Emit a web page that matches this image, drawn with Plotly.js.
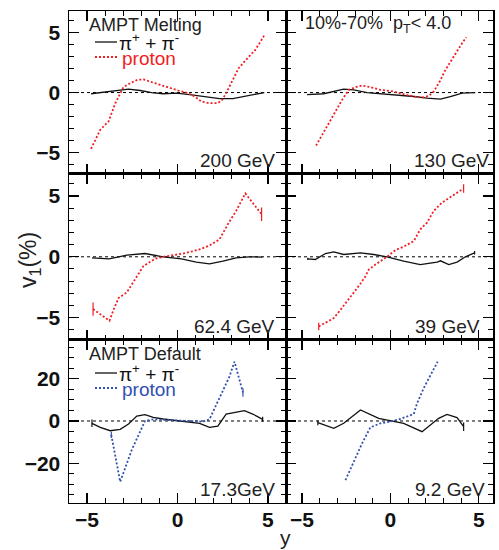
<!DOCTYPE html>
<html><head><meta charset="utf-8">
<script src="https://cdn.plot.ly/plotly-3.0.1.min.js"></script>
<style>html,body{margin:0;padding:0;background:#fff}#c{width:499px;height:550px}</style>
</head><body><div id="c"></div>
<script>
// ---- data ----
const p200_x = [-4.78,-4.27,-3.81,-3.44,-2.99,-2.62,-2.22,-1.89,-1.25,-0.79,-0.44,0.04,0.49,0.95,1.32,1.77,2.23,2.47,2.69,3.06,3.38,3.70,4.07,4.30,4.56,4.80];
const p200_y = [-4.69,-3.1,-2.4,-0.9,0.45,0.78,1.06,1.1,0.78,0.56,0.37,0.17,0,-0.33,-0.75,-0.89,-0.89,-0.61,-0.05,1.06,2.03,2.58,3.14,3.56,4.17,4.78];
const pi200_x = [-4.78,-3.72,-2.71,-2.06,-1.43,-0.79,-0.06,0.68,1.59,2.32,3.06,3.88,4.80];
const pi200_y = [-0.1,0.08,0.28,0.17,0,-0.1,-0.05,-0.18,-0.37,-0.5,-0.5,-0.25,0];

const p130_x = [-4.2,-3.86,-3.48,-3.11,-2.73,-2.35,-1.98,-1.6,-1.13,-0.56,0.19,0.75,1.32,1.79,2.17,2.45,2.79,3.11,3.39,3.71,4.05,4.29];
const p130_y = [-4.42,-3.53,-2.55,-1.58,-0.61,0.22,0.45,0.58,0.45,0.22,0.08,-0.14,-0.33,-0.42,-0.28,0.08,0.92,1.89,2.58,3.28,4.11,4.61];
const pi130_x = [-4.71,-3.77,-2.64,-2.07,-1.32,-0.56,0.19,1.32,2.07,2.83,3.39,4.05,4.80];
const pi130_y = [-0.17,-0.1,0.28,0.22,0,-0.1,-0.14,-0.33,-0.47,-0.55,-0.33,-0.05,0];

const p62_x = [-4.67,-4.25,-3.76,-3.54,-3.26,-2.8,-2.53,-2.22,-1.89,-1.61,-1.25,-0.79,-0.24,0.31,0.86,1.32,1.77,2.32,2.78,3.24,3.75,4.15,4.65];
const p62_y = [-4.3,-4.77,-5.26,-4.36,-3.39,-2.92,-2.29,-1.46,-0.77,-0.5,-0.17,0,0.11,0.27,0.46,0.66,0.93,1.43,2.67,3.77,5.21,4.46,3.5];
const p62_e = [0.55,0,0,0,0,0,0,0,0,0,0,0,0,0,0,0,0,0,0,0,0,0,0.55];
const pi62_x = [-4.73,-3.78,-2.8,-1.8,-0.79,0.22,1.04,1.77,2.51,3.24,3.97,4.7];
const pi62_y = [-0.08,-0.17,0.14,0.27,0,-0.17,-0.44,-0.58,-0.36,-0.08,0,-0.02];

const p39_x = [-4.05,-3.2,-2.82,-2.45,-2.07,-1.73,-1.41,-1.22,-0.85,-0.47,-0.19,0.28,0.75,1.32,1.69,2.07,2.45,2.92,3.49,4.14];
const p39_y = [-5.73,-5.04,-4.36,-3.67,-2.98,-2.29,-1.6,-1.05,-0.64,-0.28,0,0.55,0.83,1.29,2.26,2.81,3.77,4.46,5.01,5.62];
const p39_e = [0.3,0,0,0,0,0,0,0,0,0,0,0,0,0,0,0,0,0,0,0.35];
const pi39_x = [-4.67,-4.24,-3.67,-3.2,-2.64,-1.69,-0.94,-0.19,0.75,1.69,2.64,2.83,3.3,3.77,4.24,4.76];
const pi39_y = [-0.17,-0.22,0.27,0.41,0.19,0.33,0.19,0,-0.36,-0.64,-0.44,-0.33,-0.64,-0.44,0,0.33];
const pi39_e = [0.1,0,0,0,0,0,0,0,0,0,0,0,0,0,0,0.15];

const pi17_x = [-4.73,-4.27,-3.72,-3.17,-2.71,-2.25,-1.8,-1.34,-0.79,-0.06,0.68,1.22,1.77,2.23,2.69,3.15,3.7,4.16,4.71];
const pi17_y = [-1.1,-3.0,-4.6,-3.95,-1.4,2.37,3.0,1.74,0.95,0.16,-0.47,-1.1,-3.0,-2.4,3.3,4.1,4.9,3.3,0.8];
const pi17_e = [1.8,0,0,0,0,0,0,0,0,0,0,0,0,0,0,0,0,0,1.2];
const p17_x = [-3.66,-3.17,-2.53,-1.8,-1.34,-0.6,0.13,0.86,1.41,1.77,2.32,2.87,3.15,3.42,3.62];
const p17_y = [-6.6,-28.8,-13.7,0,0.8,0.5,0.16,0,-0.3,0.8,10.7,21,28.1,19.4,13.5];
const p17_e = [1.5,0,0,0,0,0,0,0,0,0,0,0,0,0,2.0];

const pi9_x = [-4.1,-3.2,-2.64,-1.69,-0.66,0.19,0.75,1.79,2.73,3.2,3.77,4.14];
const pi9_y = [-0.8,-3.5,-1.1,5.2,1.26,-0.3,-1.1,-5.05,1.26,3.15,1.6,-2.7];
const pi9_e = [1.2,0,0,0,0,0,0,0,0,0,0,2.0];
const p9_x = [-2.54,-2.07,-1.6,-1.13,-0.56,0,0.56,1.32,1.51,1.88,2.26,2.67];
const p9_y = [-28,-19.3,-10.6,-3.0,-1.1,-0.3,0.95,3.3,8.4,15.5,21.8,28.1];

const energyLabels = ['200 GeV','130 GeV','62.4 GeV','39 GeV','17.3GeV','9.2 GeV'];
const pionName = 'π<sup>+</sup> + π<sup>-</sup>';
const protonName = 'proton';

// ---- geometry ----
const W = 499, H = 550;
const colL = [69, 286], colR = [286, 493];
const rows = [[11, 173.5], [173.5, 339.5], [339.5, 502.7]];
const yr = [[-6.75, 6.8], [-6.8, 6.85], [-38.7, 38.6]];
const FONT = 'Liberation Sans, Arial, Helvetica, sans-serif';
const RED = 'rgb(240,30,35)', BLUE = 'rgb(50,80,175)';

const px = v => v / W, py = v => 1 - v / H;

const layout = {
  width: W, height: H, margin: {l: 0, r: 0, t: 0, b: 0},
  paper_bgcolor: '#fff', plot_bgcolor: '#fff', showlegend: false,
  shapes: [], annotations: []
};

function xAxis(col, row, id) {
  const d = col === 0 ? colL : colR;
  return {
    domain: [px(d[0]), px(d[1])], range: col === 0 ? [-6, 6] : [-5.9, 5.8],
    anchor: 'y' + (id === 1 ? '' : id),
    showline: true, linecolor: '#000', linewidth: 1.5, mirror: 'allticks',
    ticks: 'inside', ticklen: 10, tickwidth: 1.2, tickcolor: '#000',
    tickmode: 'linear', tick0: 0, dtick: 5,
    minor: {tickmode: 'linear', tick0: 0, dtick: 1, ticks: 'inside', ticklen: 5, tickwidth: 1, tickcolor: '#000', showgrid: false},
    showgrid: false, zeroline: false, showticklabels: row === 2,
    tickfont: {family: FONT, size: 21, color: '#111', weight: 700},
    ticklabelstandoff: -2
  };
}
function yAxis(col, row, id) {
  const r = rows[row];
  const big = row === 2;
  return {
    domain: [py(r[1]), py(r[0])], range: yr[row],
    anchor: 'x' + (id === 1 ? '' : id),
    showline: true, linecolor: '#000', linewidth: 1.5, mirror: 'allticks',
    ticks: 'inside', ticklen: 10, tickwidth: 1.2, tickcolor: '#000',
    tickmode: 'linear', tick0: 0, dtick: big ? 20 : 5,
    minor: {tickmode: 'linear', tick0: 0, dtick: big ? 5 : 1, ticks: 'inside', ticklen: 5, tickwidth: 1, tickcolor: '#000', showgrid: false},
    showgrid: false, zeroline: false, showticklabels: col === 0,
    tickfont: {family: FONT, size: 21, color: '#111', weight: 700},
    ticklabelstandoff: 3
  };
}

const panels = [
  {pi: [pi200_x, pi200_y, null], pr: [p200_x, p200_y, null], c: RED},
  {pi: [pi130_x, pi130_y, null], pr: [p130_x, p130_y, null], c: RED},
  {pi: [pi62_x, pi62_y, null], pr: [p62_x, p62_y, p62_e], c: RED},
  {pi: [pi39_x, pi39_y, pi39_e], pr: [p39_x, p39_y, p39_e], c: RED},
  {pi: [pi17_x, pi17_y, pi17_e], pr: [p17_x, p17_y, p17_e], c: BLUE},
  {pi: [pi9_x, pi9_y, pi9_e], pr: [p9_x, p9_y, null], c: BLUE}
];

const traces = [];
panels.forEach((p, i) => {
  const id = i + 1, col = i % 2, row = Math.floor(i / 2);
  const sx = id === 1 ? '' : id;
  layout['xaxis' + sx] = xAxis(col, row, id);
  layout['yaxis' + sx] = yAxis(col, row, id);
  layout.shapes.push({type: 'line', xref: 'x' + sx + ' domain', yref: 'y' + sx, x0: 0, x1: 1, y0: 0, y1: 0,
    line: {color: '#000', width: 1, dash: '3px,3px'}, layer: 'below'});
  const mk = (d, color, width, dash, name) => {
    const t = {x: d[0], y: d[1], xaxis: 'x' + sx, yaxis: 'y' + sx, mode: 'lines', name: name,
      line: {color: color, width: width, dash: dash}, hoverinfo: 'skip'};
    if (d[2]) t.error_y = {type: 'data', array: d[2], visible: true, color: color, thickness: 1.2, width: 0};
    return t;
  };
  traces.push(mk(p.pi, '#111', 1.3, 'solid', pionName));
  traces.push(mk(p.pr, p.c, 1.8, '2px,2px', protonName));
  // energy label
  const rr = rows[row];
  const rightEdge = [277, 491, 277, 482, 277, 487][i];
  layout.annotations.push({xref: 'paper', yref: 'paper', x: px(rightEdge), y: py(rr[1] - 13.5),
    xanchor: 'right', yanchor: 'middle', showarrow: false, text: energyLabels[i],
    font: {family: FONT, size: 19, color: '#222'}});
});

function txt(x, y, text, size, color, anchor) {
  layout.annotations.push({xref: 'paper', yref: 'paper', x: px(x), y: py(y), xanchor: anchor || 'left', yanchor: 'middle',
    showarrow: false, borderpad: 0, text: text, font: {family: FONT, size: size, color: color || '#222'}});
}
function legLine(y, color, dash) {
  layout.shapes.push({type: 'line', xref: 'paper', yref: 'paper', x0: px(95), x1: px(117), y0: py(y), y1: py(y),
    line: {color: color, width: color === '#111' ? 1.3 : 1.8, dash: dash}});
}
// top-left legend (AMPT Melting)
txt(88, 25, 'AMPT Melting', 18);
legLine(42, '#111', 'solid');
txt(118, 42, pionName, 19, '#111');
legLine(57, RED, '2px,2px');
txt(121, 58, protonName, 19, RED);
// top-right text
txt(304, 25, '10%-70%  p<sub>T</sub>< 4.0', 18);
// bottom-left legend (AMPT Default)
txt(88, 354, 'AMPT Default', 18);
legLine(373, '#111', 'solid');
txt(118, 373, pionName, 19, '#111');
legLine(388, BLUE, '2px,2px');
txt(121, 389, protonName, 19, BLUE);
// axis titles
layout.annotations.push({xref: 'paper', yref: 'paper', x: px(30), y: py(260), textangle: -90, showarrow: false,
  xanchor: 'center', yanchor: 'middle', text: 'v<sub>1</sub>(%)', font: {family: FONT, size: 23, color: '#222'}});
txt(285, 537, 'y', 21, '#222', 'center');

Plotly.newPlot('c', traces, layout, {staticPlot: true, displayModeBar: false});
</script></body></html>
